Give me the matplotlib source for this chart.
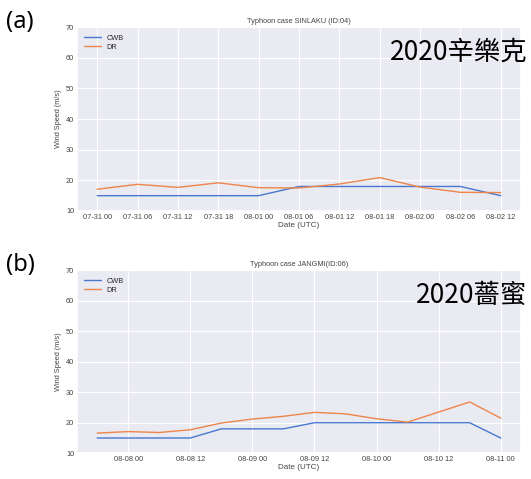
import matplotlib
matplotlib.use("Agg")
import matplotlib.pyplot as plt
import matplotlib.dates as mdates
import pandas as pd
import seaborn as sns

sns.set_theme(style="darkgrid", palette="muted")
plt.rcParams['font.family'] = ['Liberation Sans', 'DejaVu Sans']
plt.rcParams['grid.linewidth'] = 0.8

# SINLAKU (ID:04), 6-hourly
sinlaku_times = pd.date_range("2020-07-31 00:00", "2020-08-02 12:00", freq="6h")
sinlaku_cwb = [15, 15, 15, 15, 15, 18, 18, 18, 18, 18, 15]
sinlaku_dr = [17.1, 18.7, 17.7, 19.2, 17.6, 17.5, 18.8, 20.9, 17.8, 16.1, 16.0]

# JANGMI (ID:06), 6-hourly
jangmi_times = pd.date_range("2020-08-07 18:00", "2020-08-11 00:00", freq="6h")
jangmi_cwb = [15, 15, 15, 15, 18, 18, 18, 20, 20, 20, 20, 20, 20, 15]
jangmi_dr = [16.6, 17.1, 16.8, 17.7, 19.9, 21.2, 22.1, 23.4, 22.9, 21.3,
             20.2, 23.5, 26.8, 21.5]

panels = [
    dict(times=sinlaku_times, cwb=sinlaku_cwb, dr=sinlaku_dr,
         title="Typhoon case SINLAKU (ID:04)", tag="(a)", name="2020辛樂克",
         hours=[0, 6, 12, 18]),
    dict(times=jangmi_times, cwb=jangmi_cwb, dr=jangmi_dr,
         title="Typhoon case JANGMI(ID:06)", tag="(b)", name="2020薔蜜",
         hours=[0, 12]),
]

fig = plt.figure(figsize=(5.31, 4.79), dpi=100)
boxes = [[0.145, 0.5595, 0.836, 0.384], [0.145, 0.0537, 0.836, 0.3826]]
small = 5.3
txt_col = "#444444"
big_font = ['Noto Sans CJK TC', 'DejaVu Sans']

for box, p in zip(boxes, panels):
    ax = fig.add_axes(box)
    ax.plot(p["times"], p["cwb"], label="CWB", lw=1.0)
    ax.plot(p["times"], p["dr"], label="DR", lw=1.0)
    ax.set_ylim(10, 70)
    ax.set_yticks(range(10, 71, 10))
    ax.xaxis.set_major_locator(mdates.HourLocator(byhour=p["hours"]))
    ax.xaxis.set_major_formatter(mdates.DateFormatter("%m-%d %H"))
    ax.tick_params(labelsize=small, colors=txt_col, pad=2, length=0)
    ax.set_title(p["title"], fontsize=small, color=txt_col, pad=3)
    ax.set_xlabel("Date (UTC)", fontsize=small + 0.5, color=txt_col, labelpad=1)
    ax.set_ylabel("Wind Speed (m/s)", fontsize=small, color=txt_col, labelpad=3)
    ax.legend(loc="upper left", fontsize=small, frameon=False,
              handlelength=2.2, borderaxespad=0.6, labelspacing=0.3)
    ax.text(1.015, 0.935, p["name"], transform=ax.transAxes, ha="right", va="top",
            fontsize=19, color="black", family=big_font)
    fig.text(0.012, box[1] + box[3] + 0.035, p["tag"], ha="left", va="top",
             fontsize=17, color="black", family=['Noto Sans', 'DejaVu Sans'])

fig.savefig("out.png", dpi=100)
